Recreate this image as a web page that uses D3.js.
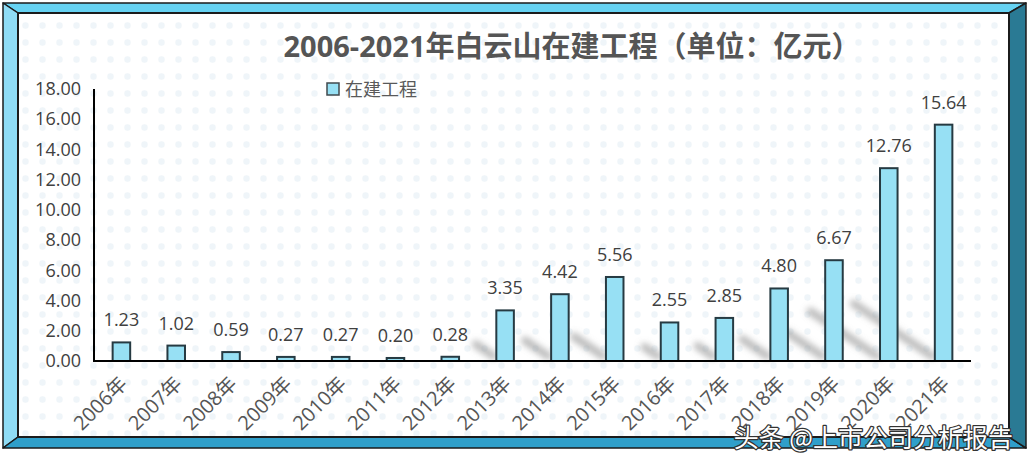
<!DOCTYPE html>
<html>
<head>
<meta charset="utf-8">
<script src="https://cdn.jsdelivr.net/npm/d3@7/dist/d3.min.js"></script>
<style>
    html, body { margin: 0; padding: 0; background: #ffffff; }
    svg { display: block; font-family: "Open Sans", "Noto Sans CJK SC", sans-serif; }
</style>
</head>
<body>
<svg id="chart" width="1029" height="465"></svg>
<script>
// data
var years = ["2006年", "2007年", "2008年", "2009年", "2010年", "2011年", "2012年", "2013年",
             "2014年", "2015年", "2016年", "2017年", "2018年", "2019年", "2020年", "2021年"];
var values = [1.23, 1.02, 0.59, 0.27, 0.27, 0.20, 0.28, 3.35,
              4.42, 5.56, 2.55, 2.85, 4.80, 6.67, 12.76, 15.64];
var yTicks = [0, 2, 4, 6, 8, 10, 12, 14, 16, 18];
var seriesName = "在建工程";
var title = "2006-2021年白云山在建工程（单位：亿元）";
var watermark = "头条 @上市公司分析报告";

(function () {
    let svg = d3.select("#chart");
    let defs = svg.append("defs");
    let latin = "\"Open Sans\", \"Noto Sans CJK SC\", sans-serif";

    // dotted paper background
    let pat = defs.append("pattern")
        .attr("id", "dots").attr("patternUnits", "userSpaceOnUse")
        .attr("width", 17).attr("height", 17);
    pat.append("rect").attr("width", 17).attr("height", 17).attr("fill", "#ffffff");
    pat.append("circle").attr("cx", 8.5).attr("cy", 8.5).attr("r", 3.2).attr("fill", "#eff5f9");

    defs.append("filter").attr("id", "blur")
        .attr("x", "-50%").attr("y", "-50%").attr("width", "200%").attr("height", "200%")
        .append("feGaussianBlur").attr("stdDeviation", 3);

    // beveled frame
    let L = 3, T = 3, R = 1026, B = 448, il = 18, it = 13, ir = 1009, ib = 437;
    let frame = svg.append("g");
    let bevel = function (pts, fill) {
        frame.append("polygon").attr("points", pts.map(p => p.join(",")).join(" "))
            .attr("fill", fill).attr("stroke", "#1b1b1b").attr("stroke-width", 1.5)
            .attr("stroke-linejoin", "round");
    };
    bevel([[L, T], [R, T], [ir, it], [il, it]], "#66d2f2");
    bevel([[L, T], [il, it], [il, ib], [L, B]], "#8fdcf5");
    bevel([[L, B], [il, ib], [ir, ib], [R, B]], "#2f9fca");
    bevel([[R, T], [ir, it], [ir, ib], [R, B]], "#2a7a94");
    frame.append("rect").attr("x", il).attr("y", it).attr("width", ir - il).attr("height", ib - it)
        .attr("fill", "url(#dots)").attr("stroke", "#1b1b1b").attr("stroke-width", 2);

    // plot area
    let x0 = 94, x1 = 971, yTop = 89, yBase = 361;
    let x = d3.scaleBand().domain(years).range([x0, x1]).paddingInner(0.68).paddingOuter(0.34);
    let y = d3.scaleLinear().domain([0, 18]).range([yBase, yTop]);

    // soft floor shadows behind the bars
    let shadows = svg.append("g").attr("filter", "url(#blur)");
    years.forEach(function (yr, i) {
        let h = yBase - y(values[i]);
        let len = Math.min(h * 0.42, 95);
        if (len < 8) return;
        let sx = x(yr) - 3, sy = yBase - 5;
        shadows.append("line")
            .attr("x1", sx).attr("y1", sy)
            .attr("x2", sx - len * 0.82).attr("y2", sy - len * 0.55)
            .attr("stroke", "#8e8e8e").attr("stroke-opacity", 0.6)
            .attr("stroke-width", 8).attr("stroke-linecap", "round");
    });

    // y axis labels
    let yAxis = d3.axisLeft(y).tickValues(yTicks).tickFormat(d3.format(".2f")).tickSize(0).tickPadding(13);
    let gy = svg.append("g").attr("transform", "translate(" + x0 + ",0)").call(yAxis);
    gy.select(".domain").remove();
    gy.selectAll("text").attr("font-size", 18).attr("fill", "#404040").attr("font-family", latin);

    // bars
    svg.append("g").selectAll("rect").data(values).join("rect")
        .attr("x", (d, i) => x(years[i]))
        .attr("y", d => y(d))
        .attr("width", x.bandwidth())
        .attr("height", d => yBase - y(d))
        .attr("fill", "#97e0f4").attr("stroke", "#263a42").attr("stroke-width", 2);

    // value labels
    svg.append("g").selectAll("text").data(values).join("text")
        .attr("x", (d, i) => x(years[i]) + x.bandwidth() / 2)
        .attr("y", d => y(d) - 16)
        .attr("text-anchor", "middle").attr("font-size", 18).attr("fill", "#404040")
        .text(d => d.toFixed(2));

    // axis lines
    svg.append("line").attr("x1", x0).attr("x2", x0).attr("y1", yTop).attr("y2", yBase + 1)
        .attr("stroke", "#000").attr("stroke-width", 2);
    svg.append("line").attr("x1", x0 - 1).attr("x2", x1).attr("y1", yBase).attr("y2", yBase)
        .attr("stroke", "#000").attr("stroke-width", 2);

    // rotated category labels
    svg.append("g").selectAll("text").data(years).join("text")
        .attr("transform", d => "translate(" + (x(d) + x.bandwidth() / 2 + 7) + "," + (yBase + 24) + ") rotate(-45)")
        .attr("text-anchor", "end").attr("font-size", 20).attr("fill", "#555555")
        .attr("font-family", latin)
        .text(d => d);

    // title
    svg.append("text").attr("x", 572).attr("y", 57).attr("text-anchor", "middle")
        .attr("font-size", 29).attr("font-weight", "bold").attr("fill", "#555555")
        .text(title);

    // legend
    svg.append("rect").attr("x", 327).attr("y", 83).attr("width", 12).attr("height", 12)
        .attr("fill", "#97e0f4").attr("stroke", "#404a4e").attr("stroke-width", 1.5);
    svg.append("text").attr("x", 345).attr("y", 96).attr("font-size", 18).attr("fill", "#595959")
        .attr("font-family", "\"Noto Sans CJK SC\", sans-serif")
        .text(seriesName);

    // watermark: white text with dark outline
    svg.append("text").attr("x", 1013).attr("y", 447).attr("text-anchor", "end")
        .attr("font-size", 25).attr("font-family", "\"Noto Sans CJK SC\", sans-serif")
        .attr("fill", "#ffffff").attr("stroke", "#333333").attr("stroke-width", 2.5)
        .attr("paint-order", "stroke").attr("stroke-linejoin", "round")
        .text(watermark);
})();
</script>
</body>
</html>
